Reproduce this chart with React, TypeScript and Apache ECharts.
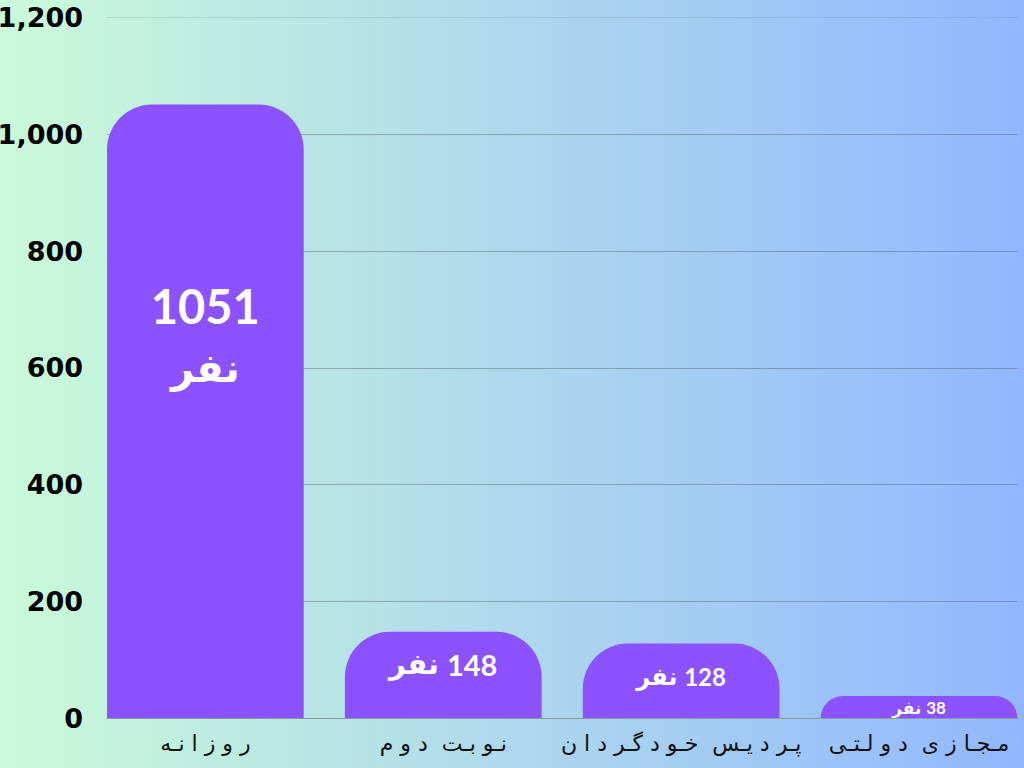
import { useEffect, useRef } from 'react'
import * as echarts from 'echarts'

const categories = ['روزانه', 'نوبت دوم', 'پردیس خودگردان', 'مجازی دولتی']
const values = [1051, 148, 128, 38]
const unit = 'نفر'
const yMin = 0
const yMax = 1200
const yStep = 200

// letters that never join to the following letter
const nonJoining = 'اآأإدذرزژو'

// spread the letters the way the design does: spaces after non-joining letters, kashida after joining ones
function spread(word: string) {
  let out = ''
  for (let i = 0; i < word.length; i++) {
    const c = word[i]
    const next = word[i + 1]
    out += c
    if (!next || c === ' ') continue
    if (next === ' ') { out += ' '; continue }
    out += nonJoining.includes(c) ? ' ' : 'ـ'
  }
  return out
}

// label look per bar (size, distance from bar top)
const labelLook = [
  { size: 47, unitSize: 40, distance: 170, stacked: true },
  { size: 29, unitSize: 29, distance: 18, stacked: false },
  { size: 24, unitSize: 24, distance: 21, stacked: false },
  { size: 17, unitSize: 17, distance: 3, stacked: false },
]

export default function App() {
  const ref = useRef<HTMLDivElement>(null)

  useEffect(() => {
    if (!ref.current) return
    const chart = echarts.init(ref.current, undefined, { renderer: 'svg' })

    const data = values.map((v, i) => {
      const l = labelLook[i]
      const num = { fontSize: l.size, fontWeight: 'bold' as const, fontFamily: 'Lato, Roboto, sans-serif', color: '#fff' }
      const u = { fontSize: l.unitSize, fontWeight: 'bold' as const, fontFamily: "'DejaVu Sans', sans-serif", color: '#fff' }
      return {
        value: v,
        label: {
          show: true,
          position: 'insideTop',
          distance: l.distance,
          fontSize: l.size,
          fontWeight: 'bold',
          color: '#fff',
          lineHeight: l.stacked ? 62 : undefined,
          formatter: l.stacked ? `{v|${v}}\n{u|${unit}}` : `{u|${unit}} {v|${v}}`,
          rich: {
            v: l.stacked ? { ...num, lineHeight: 62 } : num,
            u: l.stacked ? { ...u, lineHeight: 62 } : u,
          },
        },
      }
    })

    chart.setOption({
      animation: false,
      backgroundColor: 'transparent',
      grid: [
        { left: 107, right: 6, top: 17.5, bottom: 49.7, outerBoundsMode: 'none', containLabel: false },
        { left: 86.4, width: 951.6, top: 17.5, bottom: 49.7, outerBoundsMode: 'none', containLabel: false },
      ],
      xAxis: [
        {
          type: 'category', gridIndex: 0, data: categories,
          axisLabel: { show: false }, axisTick: { show: false },
          axisLine: { lineStyle: { color: '#8a9b9e', width: 1 } },
          z: 5,
        },
        {
          type: 'category', gridIndex: 1, data: categories,
          axisLine: { show: false }, axisTick: { show: false },
          axisLabel: {
            interval: 0,
            hideOverlap: false,
            formatter: (s: string) => spread(s),
            fontFamily: "'DejaVu Sans', sans-serif", fontSize: 22, color: '#111', margin: 14,
          },
        },
      ],
      yAxis: [
        {
          type: 'value', gridIndex: 0, min: yMin, max: yMax, interval: yStep,
          axisLine: { show: false }, axisTick: { show: false },
          axisLabel: {
            formatter: (v: number) => v.toLocaleString('en-US'),
            fontFamily: "'DejaVu Sans', sans-serif", fontWeight: 'bold', fontSize: 27, color: '#000', margin: 24,
          },
          splitLine: {
            lineStyle: {
              width: 1,
              color: [
                'rgba(80,100,110,0.45)', 'rgba(80,100,110,0.45)', 'rgba(80,100,110,0.45)',
                'rgba(80,100,110,0.45)', 'rgba(80,100,110,0.45)', 'rgba(80,100,110,0.45)',
                'rgba(80,110,120,0.18)',
              ],
            },
          },
        },
        { type: 'value', gridIndex: 1, min: yMin, max: yMax, interval: yStep, show: false },
      ],
      series: [
        {
          type: 'bar', xAxisIndex: 1, yAxisIndex: 1, data,
          barWidth: 196.7,
          itemStyle: { color: '#8c52ff', borderRadius: [45, 45, 0, 0] },
        },
      ],
    })

    return () => chart.dispose()
  }, [])

  return (
    <div
      ref={ref}
      style={{
        position: 'fixed', left: 0, top: 0, width: 1024, height: 768,
        background: 'linear-gradient(to right, #cafad9, #92b7ff)',
      }}
    />
  )
}
